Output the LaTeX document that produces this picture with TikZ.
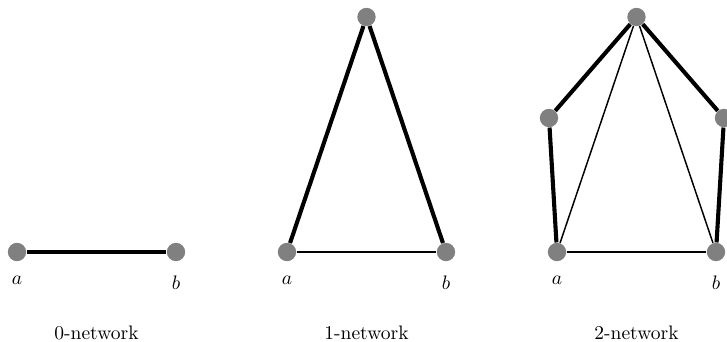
\documentclass[tikz,border=0pt]{standalone}
\usepackage{amsmath,amssymb}
\usetikzlibrary{positioning}

\begin{document}
\begin{tikzpicture}[every node/.style={font=\normalsize},
  vert/.style={circle,fill=gray,inner sep=0pt,minimum size=0.33cm},
  heavy/.style={line width=2.1pt},
  light/.style={line width=.75pt}]
\useasboundingbox (0,0) rectangle (13.0860,6.1380);
% 0-network
\node[vert] (a0) at (0.3060,1.6020) {};
\node[vert] (b0) at (3.1680,1.6020) {};
\draw[heavy] (a0)--(b0);
\node[below=0.14cm of a0] (la0) {$a$};
\node[below=0.14cm of b0] (lb0) {$b$};
\node[anchor=base] (cap0) at (1.7370,0.0300) {0-network};
% 1-network
\node[vert] (a1) at (5.1660,1.6020) {};
\node[vert] (b1) at (8.0280,1.6020) {};
\node[vert] (t1) at (6.5970,5.8320) {};
\draw[light] (a1)--(b1);
\draw[heavy] (a1)--(t1)--(b1);
\node[below=0.14cm of a1] (la1) {$a$};
\node[below=0.14cm of b1] (lb1) {$b$};
\node[anchor=base] (cap1) at (6.5970,0.0300) {1-network};
% 2-network
\node[vert] (a2) at (10.0260,1.6020) {};
\node[vert] (b2) at (12.8880,1.6020) {};
\node[vert] (l2) at (9.8820,4.0140) {};
\node[vert] (r2) at (13.0320,4.0140) {};
\node[vert] (t2) at (11.4570,5.8320) {};
\draw[light] (a2)--(b2);
\draw[light] (a2)--(t2);
\draw[light] (b2)--(t2);
\draw[heavy] (a2)--(l2)--(t2)--(r2)--(b2);
\node[below=0.14cm of a2] (la2) {$a$};
\node[below=0.14cm of b2] (lb2) {$b$};
\node[anchor=base] (cap2) at (11.4570,0.0300) {2-network};
\end{tikzpicture}
\end{document}
